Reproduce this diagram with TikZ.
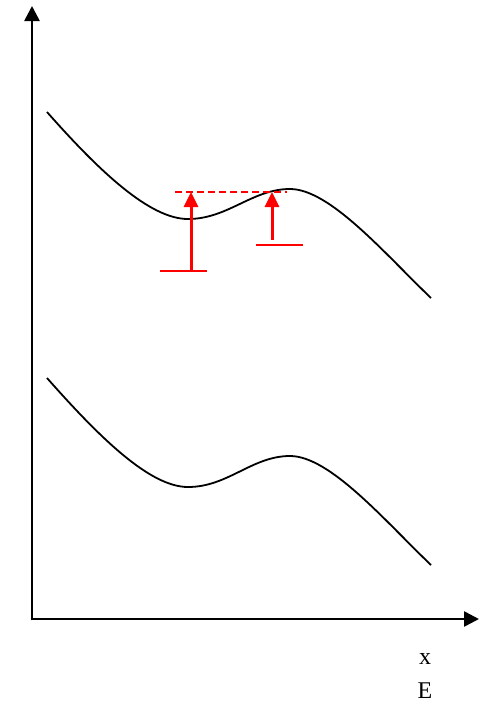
\documentclass[tikz,border=0pt]{standalone}
\usepackage{fontspec}
\setmainfont{Liberation Serif}
\usetikzlibrary{arrows.meta}
\begin{document}
\begin{tikzpicture}[x=1pt,y=-1pt,
  axis/.style={line width=2.6pt,-{Triangle[width=15pt,length=15pt]}},
  curve/.style={line width=1.8pt},
  redarrow/.style={red,line width=3pt,-{Triangle[width=14pt,length=15pt]}},
  redbar/.style={red,line width=2.2pt},
  lbl/.style={font=\fontsize{24}{27}\selectfont,inner sep=0pt}]
\useasboundingbox (0,0) rectangle (479,705);
% axes
\coordinate (O) at (32,619);
\coordinate (Ytip) at (32,6);
\coordinate (Xtip) at (479,619);
\draw[axis] ([yshift=-1.3pt]O) -- (Ytip);
\draw[axis] ([xshift=-1.3pt]O) -- (Xtip);
% curves
\draw[curve] (47,112) .. controls (100,172) and (150,219) .. (188,219)
  .. controls (228,219) and (252,189) .. (290,189)
  .. controls (330,189) and (385,254) .. (431,298);
\draw[curve] (47,378) .. controls (100,438) and (150,487) .. (188,487)
  .. controls (228,487) and (252,456) .. (290,456)
  .. controls (330,456) and (385,521) .. (431,565);
% red
\coordinate (D1) at (175,192);
\coordinate (D2) at (287,192);
\draw[red,line width=2pt,dash pattern=on 7pt off 4pt] (D1) -- (D2);
\coordinate (B1l) at (160,271);
\coordinate (B1r) at (207,271);
\coordinate (B1) at (191,271);
\coordinate (T1) at (191,192);
\draw[redbar] (B1l) -- (B1r);
\draw[redarrow] (B1) -- (T1);
\coordinate (B2l) at (256,245);
\coordinate (B2r) at (303,245);
\coordinate (S2) at (272,240);
\coordinate (T2) at (272,192);
\draw[redbar] (B2l) -- (B2r);
\draw[redarrow] (S2) -- (T2);
% labels
\node[lbl] (xl) at (425,659) {x};
\node[lbl] (El) at (425,691) {E};
\end{tikzpicture}
\end{document}
